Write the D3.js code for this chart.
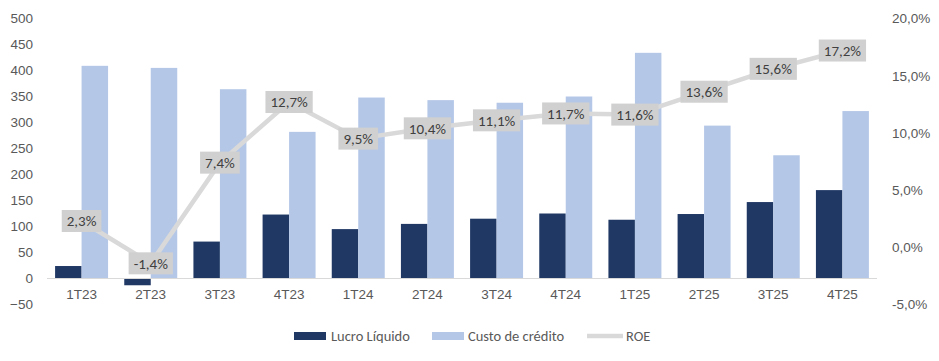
<!DOCTYPE html>
<html>
<head>
<meta charset="utf-8">
<script src="https://cdn.jsdelivr.net/npm/d3@7"></script>
<style>
  body { margin: 0; background: #fff; }
  svg { font-family: Carlito, Calibri, Lato, sans-serif; }
  .tick text { fill: #595959; font-size: 13.5px; }
  .lbl text { fill: #404040; font-size: 15px; }
</style>
</head>
<body>
<div id="chart"></div>
<script>
var categories = ["1T23","2T23","3T23","4T23","1T24","2T24","3T24","4T24","1T25","2T25","3T25","4T25"];
var lucro = [24, -13, 71, 123, 95, 105, 115, 125, 113, 124, 147, 170];
var custo = [409, 405, 364, 282, 348, 343, 338, 350, 434, 294, 237, 322];
var roe = [2.3, -1.4, 7.4, 12.7, 9.5, 10.4, 11.1, 11.7, 11.6, 13.6, 15.6, 17.2];
var leftTicks = [-50, 0, 50, 100, 150, 200, 250, 300, 350, 400, 450, 500];
var rightTicks = [-5, 0, 5, 10, 15, 20];

var width = 939, height = 361;

var svg = d3.select("#chart").append("svg")
    .attr("width", width)
    .attr("height", height);

var x = d3.scaleBand().domain(categories).range([47, 877])
    .paddingInner(0.234).paddingOuter(0.117);
var x1 = d3.scaleBand().domain(["lucro", "custo"]).range([0, x.bandwidth()]);
var y = d3.scaleLinear().domain([-50, 500]).range([304.5, 18.5]);
var y2 = d3.scaleLinear().domain([-5, 20]).range([304.5, 18.5]);

var fmt = function(v, d) { return v.toFixed(d).replace(".", ","); };

// axes (text only)
var yAxis = d3.axisLeft(y).tickValues(leftTicks).tickSize(0).tickPadding(0);
svg.append("g")
    .attr("transform", "translate(33,0)")
    .call(yAxis)
    .call(function(g) { g.select(".domain").remove(); });

var yAxis2 = d3.axisRight(y2).tickValues(rightTicks).tickSize(0).tickPadding(0)
    .tickFormat(function(d) { return fmt(d, 1) + "%"; });
svg.append("g")
    .attr("transform", "translate(892,0)")
    .call(yAxis2)
    .call(function(g) { g.select(".domain").remove(); });

// bars
var groups = svg.selectAll("g.cat")
    .data(categories)
  .enter().append("g")
    .attr("class", "cat")
    .attr("transform", function(d) { return "translate(" + x(d) + ",0)"; });

groups.append("rect")
    .attr("x", x1("lucro"))
    .attr("width", x1.bandwidth())
    .attr("y", function(d, i) { return y(Math.max(0, lucro[i])); })
    .attr("height", function(d, i) { return Math.abs(y(lucro[i]) - y(0)); })
    .attr("fill", "#203864");

groups.append("rect")
    .attr("x", x1("custo"))
    .attr("width", x1.bandwidth())
    .attr("y", function(d, i) { return y(Math.max(0, custo[i])); })
    .attr("height", function(d, i) { return Math.abs(y(custo[i]) - y(0)); })
    .attr("fill", "#b4c7e7");

// baseline
svg.append("line")
    .attr("x1", x.range()[0]).attr("x2", x.range()[1])
    .attr("y1", y(0)).attr("y2", y(0))
    .attr("stroke", "#d9d9d9").attr("stroke-width", 1);

// category labels
var xAxis = d3.axisBottom(x).tickSize(0).tickPadding(0);
svg.append("g")
    .attr("transform", "translate(0,289)")
    .call(xAxis)
    .call(function(g) { g.select(".domain").remove(); });

// ROE line
var line = d3.line()
    .x(function(d, i) { return x(categories[i]) + x.bandwidth() / 2; })
    .y(function(d) { return y2(d); });

svg.append("path")
    .datum(roe)
    .attr("d", line)
    .attr("fill", "none")
    .attr("stroke", "#d9d9d9")
    .attr("stroke-width", 4.5)
    .attr("stroke-linejoin", "round");

// labels
var lbl = svg.selectAll("g.lbl")
    .data(roe)
  .enter().append("g")
    .attr("class", "lbl")
    .attr("transform", function(d, i) {
      return "translate(" + (x(categories[i]) + x.bandwidth() / 2) + "," + y2(d) + ")";
    });

lbl.append("rect")
    .attr("fill", "#d0d0d0");

lbl.append("text")
    .attr("text-anchor", "middle")
    .attr("dy", "0.35em")
    .text(function(d) { return fmt(d, 1) + "%"; });

lbl.each(function() {
  var g = d3.select(this);
  var w = g.select("text").node().getComputedTextLength() + 10;
  g.select("rect")
    .attr("x", -w / 2).attr("y", -11)
    .attr("width", w).attr("height", 22);
});

// legend
var legend = svg.append("g").attr("transform", "translate(0,336)");
legend.append("rect").attr("x", 294).attr("y", -4).attr("width", 32).attr("height", 8).attr("fill", "#203864");
legend.append("text").attr("x", 331).attr("dy", "0.35em").attr("fill", "#595959").style("font-size", "14.5px").text("Lucro Líquido");
legend.append("rect").attr("x", 432).attr("y", -4).attr("width", 32).attr("height", 8).attr("fill", "#b4c7e7");
legend.append("text").attr("x", 468).attr("dy", "0.35em").attr("fill", "#595959").style("font-size", "14.5px").text("Custo de crédito");
legend.append("line").attr("x1", 587).attr("x2", 623).attr("y1", 0).attr("y2", 0).attr("stroke", "#d9d9d9").attr("stroke-width", 4.5);
legend.append("text").attr("x", 626).attr("dy", "0.35em").attr("fill", "#595959").style("font-size", "14.5px").text("ROE");
</script>
</body>
</html>
